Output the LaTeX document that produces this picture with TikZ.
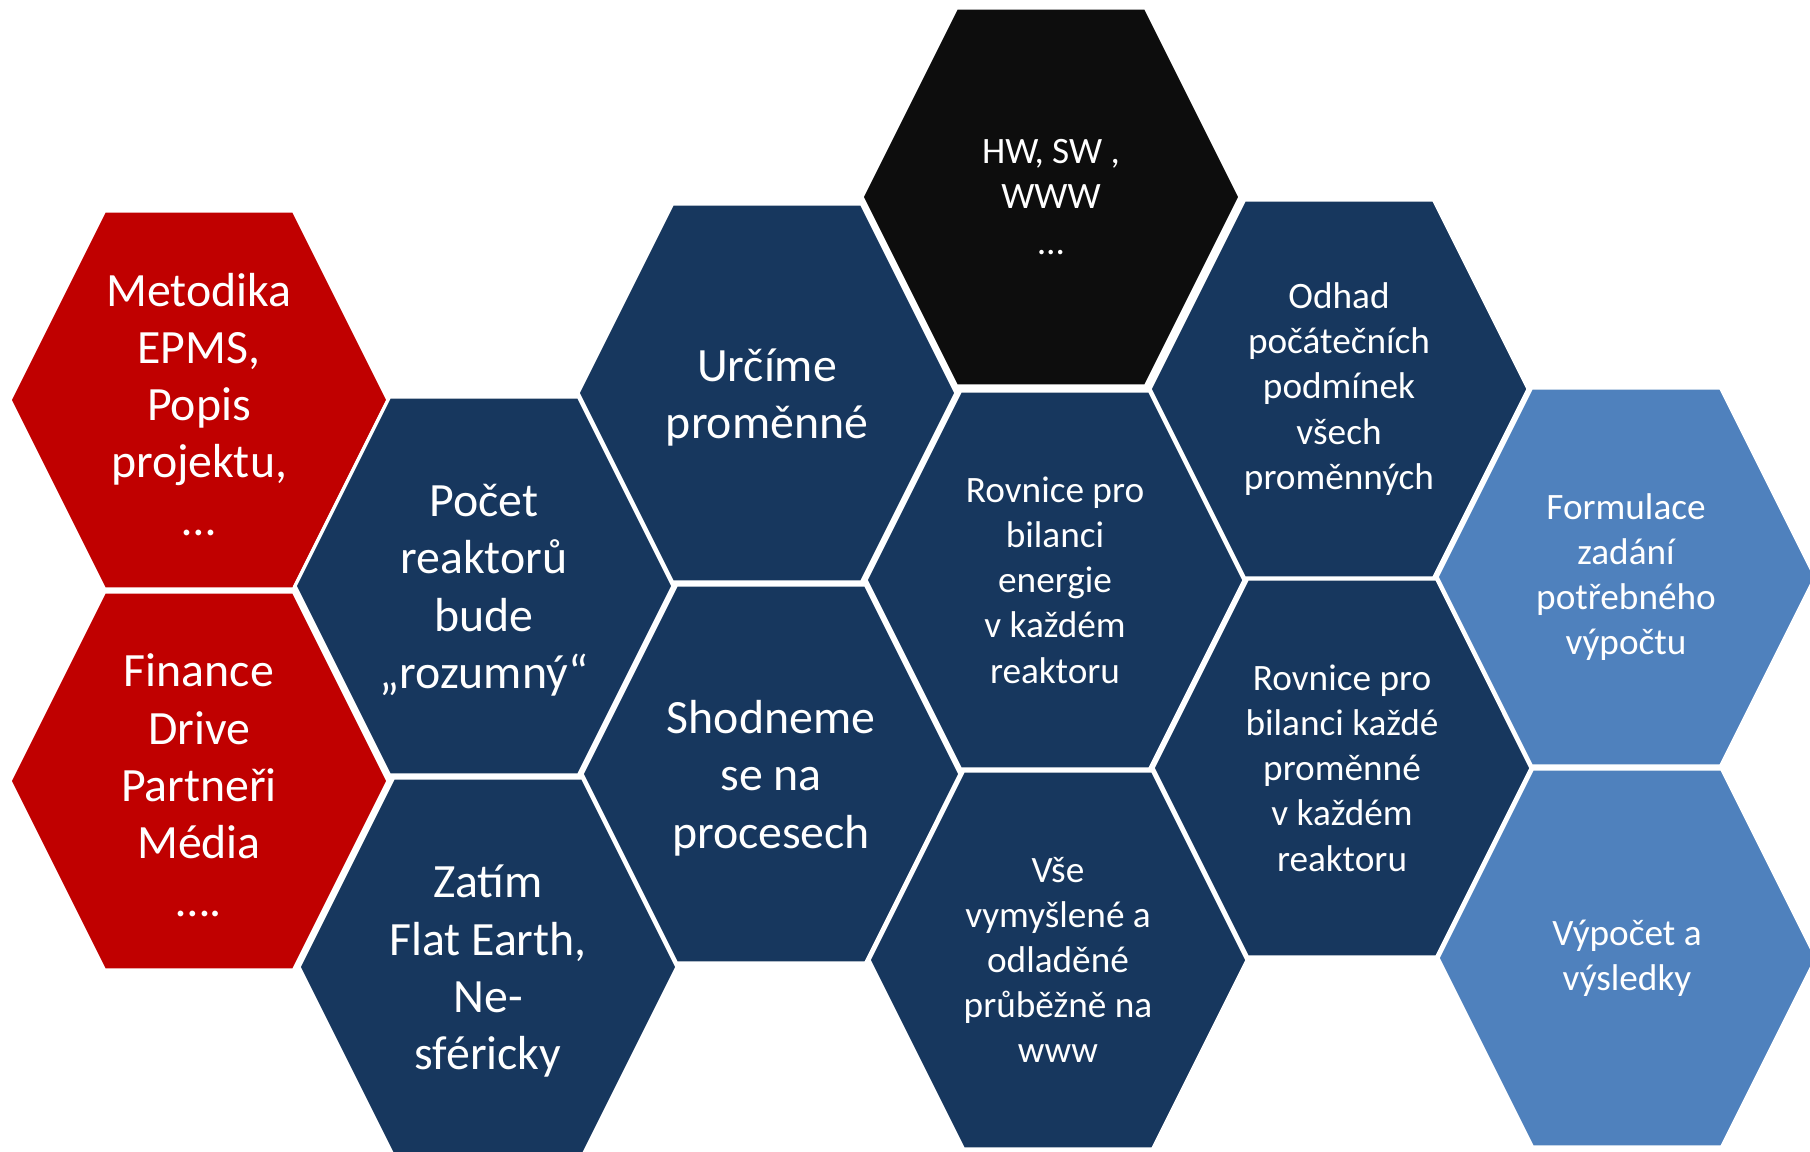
\documentclass[tikz,border=0pt]{standalone}
\usepackage{fontspec}
\setmainfont{Carlito}
\usepackage{xcolor}
\definecolor{epmsred}{HTML}{C00000}
\definecolor{epmsnavy}{HTML}{17375E}
\definecolor{epmsblack}{HTML}{0D0D0D}
\definecolor{epmssky}{HTML}{4F81BD}

\begin{document}
\begin{tikzpicture}[
  hexa/.pic={
    \path[pic actions] (-1.89,0) -- (-0.945,1.89) -- (0.945,1.89)
      -- (1.89,0) -- (0.945,-1.89) -- (-0.945,-1.89) -- cycle;
  },
  cell/.style={
    draw=white, line width=0.9pt
  },
  bigtext/.style={
    text=white, align=center, yshift=-1.2pt,
    font=\fontsize{13.6}{16.3}\selectfont
  },
  smalltext/.style={
    text=white, align=center,
    font=\fontsize{10.6}{12.85}\selectfont
  }
]
  \useasboundingbox (0,0) rectangle (18.10,-11.52);

  % left column: red
  \pic[cell, fill=epmsred] at (1.99,-4.00) {hexa};
  \node[bigtext] (metodika) at (1.99,-4.00) {Metodika\\EPMS,\\Popis\\projektu,\\…};
  \pic[cell, fill=epmsred] at (1.99,-7.81) {hexa};
  \node[bigtext] (finance) at (1.99,-7.81) {Finance\\Drive\\Partneři\\Média\\….};

  % second column
  \pic[cell, fill=epmsnavy] at (4.84,-5.86) {hexa};
  \node[bigtext] (pocet) at (4.84,-5.86) {Počet\\reaktorů\\bude\\„rozumný“};
  \pic[cell, fill=epmsnavy] at (4.88,-9.67) {hexa};
  \node[bigtext] (zatim) at (4.88,-9.67) {Zatím\\Flat Earth,\\Ne-\\sféricky};

  % third column
  \pic[cell, fill=epmsnavy] at (7.67,-3.93) {hexa};
  \node[bigtext] (urcime) at (7.67,-3.93) {Určíme\\proměnné};
  \pic[cell, fill=epmsnavy] at (7.71,-7.74) {hexa};
  \node[bigtext] (shodneme) at (7.71,-7.74) {Shodneme\\se na\\procesech};

  % fourth column
  \pic[cell, fill=epmsblack] at (10.51,-1.97) {hexa};
  \node[smalltext] (hwsw) at (10.51,-1.97) {HW, SW ,\\WWW\\…};
  \pic[cell, fill=epmsnavy] at (10.55,-5.80) {hexa};
  \node[smalltext] (energie) at (10.55,-5.80) {Rovnice pro\\bilanci\\energie\\v každém\\reaktoru};
  \pic[cell, fill=epmsnavy] at (10.58,-9.60) {hexa};
  \node[smalltext] (vse) at (10.58,-9.60) {Vše\\vymyšlené a\\odladěné\\průběžně na\\www};

  % fifth column
  \pic[cell, fill=epmsnavy] at (13.39,-3.89) {hexa};
  \node[smalltext] (odhad) at (13.39,-3.89) {Odhad\\počátečních\\podmínek\\všech\\proměnných};
  \pic[cell, fill=epmsnavy] at (13.42,-7.68) {hexa};
  \node[smalltext] (kazde) at (13.42,-7.68) {Rovnice pro\\bilanci každé\\proměnné\\v každém\\reaktoru};

  % right column: light blue
  \pic[cell, fill=epmssky] at (16.26,-5.77) {hexa};
  \node[smalltext] (formulace) at (16.26,-5.77) {Formulace\\zadání\\potřebného\\výpočtu};
  \pic[cell, fill=epmssky] at (16.27,-9.58) {hexa};
  \node[smalltext] (vypocet) at (16.27,-9.58) {Výpočet a\\výsledky};
\end{tikzpicture}
\end{document}
